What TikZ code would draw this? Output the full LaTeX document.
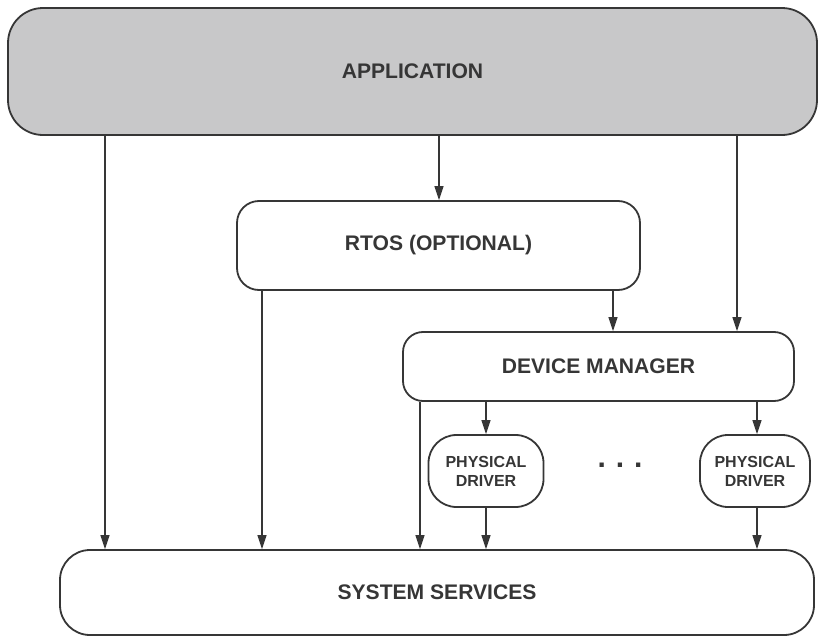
\documentclass[tikz,border=0pt]{standalone}
\usepackage{fontspec}
\setmainfont{Liberation Sans}
\usetikzlibrary{arrows.meta}
\definecolor{ink}{HTML}{363636}
\definecolor{appgray}{HTML}{C8C8C9}
\tikzset{
  box/.style={draw=ink, line width=1.8pt, rectangle, inner sep=0pt, align=center,
    text=ink, font=\fontsize{21.1}{24}\selectfont\bfseries},
  pbox/.style={box, rounded corners=28pt, font=\fontsize{16}{19}\selectfont\bfseries},
  arr/.style={draw=ink, line width=1.4pt, -{Triangle[length=14pt,width=9pt]}, shorten >=0pt},
}
\begin{document}
\begin{tikzpicture}[x=1pt,y=-1pt]
\useasboundingbox (0,0) rectangle (820,637);
\node[box, fill=appgray, rounded corners=35pt, minimum width=809pt, minimum height=127pt] (app) at (412.5,71.5) {APPLICATION};
\node[box, rounded corners=22pt, minimum width=403pt, minimum height=89pt] (rtos) at (438.5,245.5) {RTOS (OPTIONAL)};
\node[box, rounded corners=20pt, minimum width=391pt, minimum height=69pt] (dm) at (598.5,366.5) {DEVICE MANAGER};
\node[pbox, minimum width=115pt, minimum height=72pt] (pd1) at (486,471) {PHYSICAL\\DRIVER};
\node[pbox, minimum width=110pt, minimum height=72pt] (pd2) at (755,471) {PHYSICAL\\DRIVER};
\node[box, rounded corners=30pt, minimum width=754pt, minimum height=85pt] (sys) at (437,592.5) {SYSTEM SERVICES};
\node[text=ink, font=\fontsize{30}{30}\selectfont\bfseries, inner sep=0pt] (dots) at (620,465) {.\,\,.\,\,.};
% connectors
\coordinate (xa) at (105,0);
\coordinate (xb) at (439,0);
\coordinate (xc) at (737,0);
\coordinate (xd) at (262,0);
\coordinate (xe) at (613,0);
\coordinate (xf) at (420,0);
\coordinate (xg) at (486,0);
\coordinate (xh) at (757,0);
\draw[arr] (app.south -| xa) -- (sys.north -| xa);
\draw[arr] (app.south -| xb) -- (rtos.north -| xb);
\draw[arr] (app.south -| xc) -- (dm.north -| xc);
\draw[arr] (rtos.south -| xd) -- (sys.north -| xd);
\draw[arr] (rtos.south -| xe) -- (dm.north -| xe);
\draw[arr] (dm.south -| xf) -- (sys.north -| xf);
\draw[arr] (dm.south -| xg) -- (pd1.north -| xg);
\draw[arr] (pd1.south -| xg) -- (sys.north -| xg);
\draw[arr] (dm.south -| xh) -- (pd2.north -| xh);
\draw[arr] (pd2.south -| xh) -- (sys.north -| xh);
\end{tikzpicture}
\end{document}
